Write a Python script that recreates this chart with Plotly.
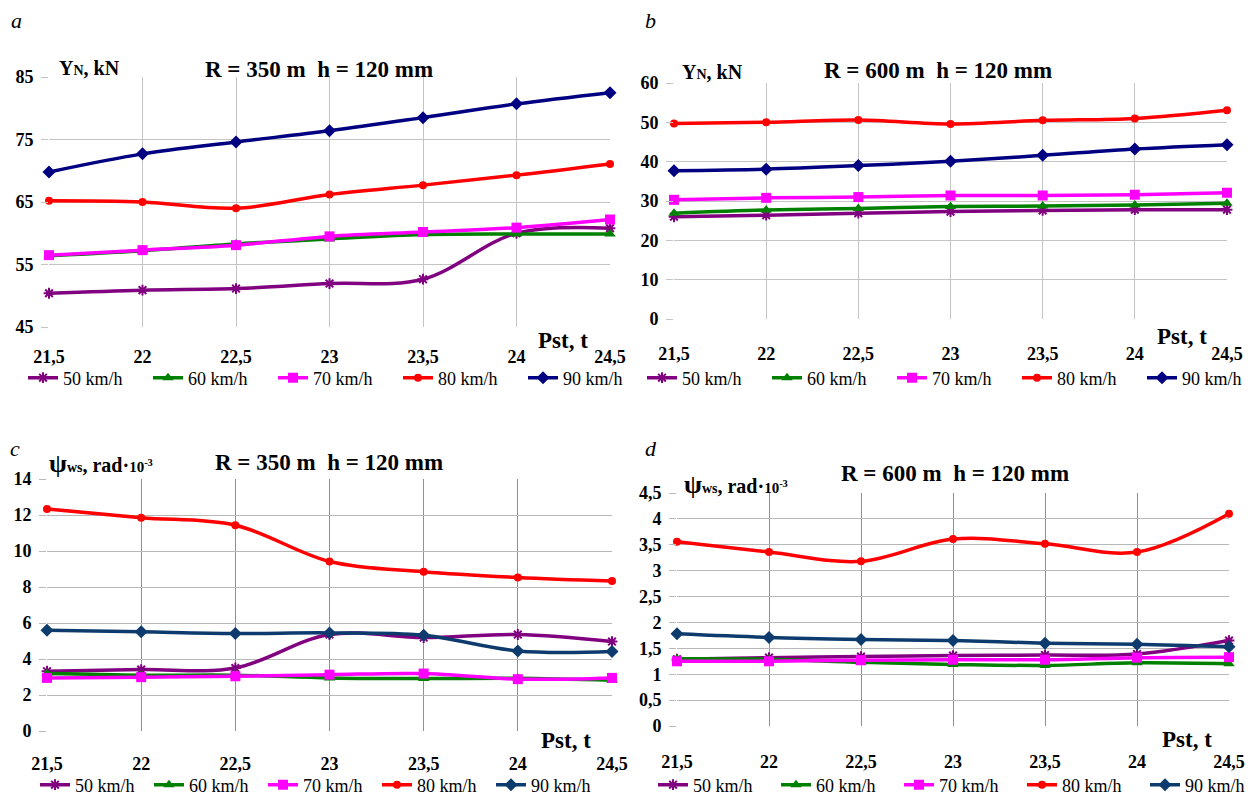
import plotly.graph_objects as go

# the page body has an 8px default margin; the figure is shifted accordingly
OFF = 8
W, H = 1254 - OFF, 796 - OFF

pst = [21.5, 22, 22.5, 23, 23.5, 24, 24.5]
speeds = ["50 km/h", "60 km/h", "70 km/h", "80 km/h", "90 km/h"]

# Panel a: YN, kN  R=350 m
a_50 = [50.4, 50.9, 51.15, 51.95, 52.65, 60.0, 60.8]
a_60 = [56.4, 57.2, 58.3, 59.1, 59.8, 59.9, 59.9]
a_70 = [56.5, 57.3, 58.1, 59.5, 60.2, 60.9, 62.2]
a_80 = [65.2, 65.0, 64.0, 66.2, 67.7, 69.3, 71.1]
a_90 = [69.8, 72.7, 74.6, 76.4, 78.5, 80.7, 82.5]
# Panel b: YN, kN  R=600 m
b_50 = [26.0, 26.4, 26.9, 27.3, 27.6, 27.8, 27.8]
b_60 = [26.9, 27.7, 28.1, 28.6, 28.7, 29.0, 29.4]
b_70 = [30.3, 30.8, 31.0, 31.4, 31.4, 31.6, 32.1]
b_80 = [49.7, 50.0, 50.6, 49.6, 50.5, 51.0, 53.1]
b_90 = [37.7, 38.1, 39.0, 40.1, 41.6, 43.2, 44.3]
# Panel c: psi_ws  R=350 m
c_50 = [3.32, 3.41, 3.5, 5.36, 5.19, 5.36, 4.97]
c_60 = [3.19, 3.1, 3.1, 2.95, 2.91, 2.93, 2.82]
c_70 = [2.95, 2.99, 3.04, 3.13, 3.19, 2.88, 2.95]
c_80 = [12.34, 11.85, 11.43, 9.42, 8.85, 8.53, 8.33]
c_90 = [5.6, 5.51, 5.42, 5.45, 5.32, 4.45, 4.42]
# Panel d: psi_ws  R=600 m
d_50 = [1.29, 1.32, 1.34, 1.36, 1.37, 1.39, 1.65]
d_60 = [1.30, 1.29, 1.23, 1.19, 1.17, 1.22, 1.20]
d_70 = [1.25, 1.25, 1.27, 1.28, 1.28, 1.32, 1.33]
d_80 = [3.56, 3.36, 3.18, 3.61, 3.52, 3.36, 4.10]
d_90 = [1.78, 1.71, 1.67, 1.65, 1.60, 1.58, 1.53]

YN = "Y<span style='font-size:14px'>N</span>, kN"
PSI = ("<span style='font-size:26px'>\u03c8</span><span style='font-size:14px'>ws</span>"
       ", rad\u00b7<span style='font-size:15px'>10<sup>-3</sup></span>")

panels = [
    dict(series=[a_50, a_60, a_70, a_80, a_90], yr=[45, 85], dt=10,
         dom=(49, 610, 77, 327), navy="#000080", grid="#c4c4c4", vgrid="#c4c4c4",
         leg=(23, 378), ew=[80, 80, 80, 80, 62], stand=17,
         ylab=(57, 68, YN),
         title=(319, 70, "R = 350 m\u00a0 h = 120 mm"), pst=(563, 340), letter=(16, 21, "a")),
    dict(series=[b_50, b_60, b_70, b_80, b_90], yr=[0, 60], dt=10,
         dom=(674, 1227, 83, 319), navy="#000080", grid="#c4c4c4", vgrid="#c4c4c4",
         leg=(642, 378), ew=[80, 80, 80, 80, 62], stand=22,
         ylab=(680, 72, YN),
         title=(938, 71, "R = 600 m\u00a0 h = 120 mm"), pst=(1182, 336), letter=(650, 21, "b")),
    dict(series=[c_50, c_60, c_70, c_80, c_90], yr=[0, 14], dt=2,
         dom=(47, 612, 479, 731), navy="#0d3b6e", grid="#b8b8b8", vgrid="#909090",
         leg=(35, 785), ew=[69, 69, 69, 69, 62], stand=20,
         ylab=(47, 464, PSI),
         title=(329, 462, "R = 350 m\u00a0 h = 120 mm"), pst=(566, 740), letter=(15, 448, "c")),
    dict(series=[d_50, d_60, d_70, d_80, d_90], yr=[0, 4.5], dt=0.5,
         dom=(677, 1229, 493, 726), navy="#0d3b6e", grid="#b8b8b8", vgrid="#909090",
         leg=(653, 785), ew=[78, 78, 78, 78, 62], stand=23,
         ylab=(682, 484, PSI),
         title=(955, 473, "R = 600 m\u00a0 h = 120 mm"), pst=(1187, 739), letter=(651, 448, "d")),
]

base_colors = ["#800080", "#008000", "#ff00ff", "#ff0000", None]
symbols = ["asterisk-open", "triangle-up", "square", "circle", "diamond"]
msizes = [9, 10, 10, 8, 10]

FONT = "Liberation Serif"


def px(x):
    return (x - OFF) / W


def py(y):
    return 1 - (y - OFF) / H


fig = go.Figure()
annotations = []
layout = {}

for i, p in enumerate(panels):
    n = "" if i == 0 else str(i + 1)
    xa, ya = "x" + n, "y" + n
    lg = "legend" + n
    x0, x1, y0, y1 = p["dom"]
    for k, (vals, name) in enumerate(zip(p["series"], speeds)):
        col = base_colors[k] or p["navy"]
        fig.add_trace(go.Scatter(
            x=pst, y=vals, name=name, mode="lines+markers",
            line=dict(color=col, width=3.5, shape="spline", smoothing=1),
            marker=dict(symbol=symbols[k], size=msizes[k], color=col,
                        line=dict(color=col, width=2 if k == 0 else 0)),
            xaxis=xa, yaxis=ya, legend=lg, legendwidth=p["ew"][k],
            cliponaxis=False, showlegend=True))
    layout["xaxis" + n] = dict(
        domain=[px(x0), px(x1)], anchor=ya, range=[21.5, 24.5],
        tickvals=pst, ticktext=[("<b>%s</b>" % v).replace(".", ",") for v in pst],
        showgrid=True, gridcolor=p["vgrid"], gridwidth=1,
        zeroline=False, showline=False, ticks="", ticklabelstandoff=p["stand"],
        automargin=False,
        tickfont=dict(family=FONT, size=18, color="black"))
    layout["yaxis" + n] = dict(
        domain=[py(y1), py(y0)], anchor=xa, range=p["yr"], dtick=p["dt"],
        tick0=p["yr"][0], showgrid=True, gridcolor=p["grid"], gridwidth=1,
        zeroline=False, showline=False, ticks="outside", ticklen=7,
        tickcolor=p["grid"], ticklabelstandoff=4, automargin=False,
        tickprefix="<b>", ticksuffix="</b>",
        tickfont=dict(family=FONT, size=18, color="black"))
    layout[lg] = dict(
        orientation="h", x=px(p["leg"][0]), xanchor="left",
        y=py(p["leg"][1]), yanchor="middle", bgcolor="rgba(0,0,0,0)",
        font=dict(family=FONT, size=18, color="black"),
        itemwidth=30, entrywidthmode="pixels", tracegroupgap=0,
        itemclick=False)
    lx, ly, lt = p["ylab"]
    annotations.append(dict(x=px(lx), y=py(ly), xref="paper", yref="paper",
                            text="<b>" + lt + "</b>", showarrow=False,
                            xanchor="left", yanchor="middle",
                            font=dict(family=FONT, size=20, color="black")))
    tx, ty, tt = p["title"]
    annotations.append(dict(x=px(tx), y=py(ty), xref="paper", yref="paper",
                            text="<b>" + tt + "</b>", showarrow=False,
                            xanchor="center", yanchor="middle",
                            font=dict(family=FONT, size=23, color="black")))
    sx, sy = p["pst"]
    annotations.append(dict(x=px(sx), y=py(sy), xref="paper", yref="paper",
                            text="<b>Pst, t</b>", showarrow=False,
                            xanchor="center", yanchor="middle",
                            font=dict(family=FONT, size=23, color="black")))
    ax_, ay_, at_ = p["letter"]
    annotations.append(dict(x=px(ax_), y=py(ay_), xref="paper", yref="paper",
                            text="<i>" + at_ + "</i>", showarrow=False,
                            xanchor="center", yanchor="middle",
                            font=dict(family=FONT, size=22, color="black")))

fig.update_layout(
    width=W, height=H, margin=dict(l=0, r=0, t=0, b=0, autoexpand=False),
    paper_bgcolor="white", plot_bgcolor="white",
    separators=", ", annotations=annotations,
    **layout)

fig.write_html("out.html")
